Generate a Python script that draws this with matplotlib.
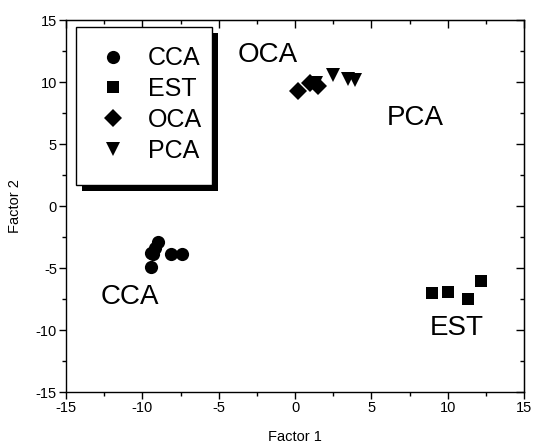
import matplotlib

matplotlib.use("Agg")
from matplotlib import pyplot as plt
from matplotlib.patches import Rectangle
from matplotlib.ticker import MultipleLocator

plt.rcParams["font.family"] = ["Liberation Sans", "DejaVu Sans"]
plt.rcParams["axes.unicode_minus"] = False

# group scores
cca_x = [-8.95, -9.15, -9.3, -9.45, -8.1, -7.4, -9.4]
cca_y = [-2.9, -3.4, -3.9, -4.9, -3.9, -3.9, -3.8]
est_x = [9.0, 10.0, 11.3, 12.2]
est_y = [-7.05, -6.9, -7.5, -6.05]
oca_x = [0.2, 1.0, 1.5]
oca_y = [9.25, 9.9, 9.65]
pca_x = [1.4, 2.5, 3.5, 3.95]
pca_y = [9.9, 10.6, 10.25, 10.2]

group_names = ["CCA", "EST", "OCA", "PCA"]
group_labels = [(-10.8, -7.3), (10.6, -9.85), (-1.8, 12.2), (7.85, 7.1)]

fig = plt.figure(figsize=(5.35, 4.46), dpi=100)
ax = fig.add_axes([66 / 535, 1 - 392 / 446, 458 / 535, 372 / 446])

ax.plot(cca_x, cca_y, "o", color="black", ms=9.5, mew=0, label="CCA")
ax.plot(est_x, est_y, "s", color="black", ms=9, mew=0, label="EST")
ax.plot(oca_x, oca_y, "D", color="black", ms=9.5, mew=0, label="OCA")
ax.plot(pca_x, pca_y, "v", color="black", ms=10.5, mew=0, label="PCA")

for name, (tx, ty) in zip(group_names, group_labels):
    ax.text(tx, ty, name, fontsize=20, ha="center", va="center")

ax.set_xlim(-15, 15)
ax.set_ylim(-15, 15)
ax.xaxis.set_major_locator(MultipleLocator(5))
ax.yaxis.set_major_locator(MultipleLocator(5))
ax.xaxis.set_minor_locator(MultipleLocator(2.5))
ax.yaxis.set_minor_locator(MultipleLocator(2.5))
ax.tick_params(which="both", direction="out", labelsize=10.5, width=1, pad=1.5)
ax.tick_params(which="major", length=5)
ax.tick_params(which="minor", length=3)
ax.set_xlabel("Factor 1", fontsize=10.5, labelpad=11)
ax.set_ylabel("Factor 2", fontsize=10.5, labelpad=10)
for spine in ax.spines.values():
    spine.set_linewidth(1)

# inward ticks on top and right
top = ax.secondary_xaxis("top")
top.xaxis.set_major_locator(MultipleLocator(5))
top.xaxis.set_minor_locator(MultipleLocator(2.5))
top.tick_params(which="both", direction="in", labeltop=False, width=1)
top.tick_params(which="major", length=6)
top.tick_params(which="minor", length=3)
right = ax.secondary_yaxis("right")
right.yaxis.set_major_locator(MultipleLocator(5))
right.yaxis.set_minor_locator(MultipleLocator(2.5))
right.tick_params(which="both", direction="in", labelright=False, width=1)
right.tick_params(which="major", length=6)
right.tick_params(which="minor", length=3)

# legend box with a hard black drop shadow
box_x0, box_x1 = 0.022, 0.319
box_y0, box_y1 = 0.556, 0.981
shadow_dx, shadow_dy = 0.013, 0.016
ax.add_patch(Rectangle((box_x0 + shadow_dx, box_y0 - shadow_dy), box_x1 - box_x0, box_y1 - box_y0,
                       transform=ax.transAxes, facecolor="black", edgecolor="none", zorder=4.8))
ax.add_patch(Rectangle((box_x0, box_y0), box_x1 - box_x0, box_y1 - box_y0,
                       transform=ax.transAxes, facecolor="white", edgecolor="black",
                       linewidth=1, zorder=4.9))

leg = ax.legend(
    loc="center left",
    bbox_to_anchor=(0.048, 0.773),
    fontsize=18,
    frameon=False,
    borderpad=0,
    labelspacing=0.27,
    handletextpad=0.4,
    handlelength=2.0,
    borderaxespad=0,
)
leg.set_zorder(5)

fig.savefig("out.png", dpi=100)
